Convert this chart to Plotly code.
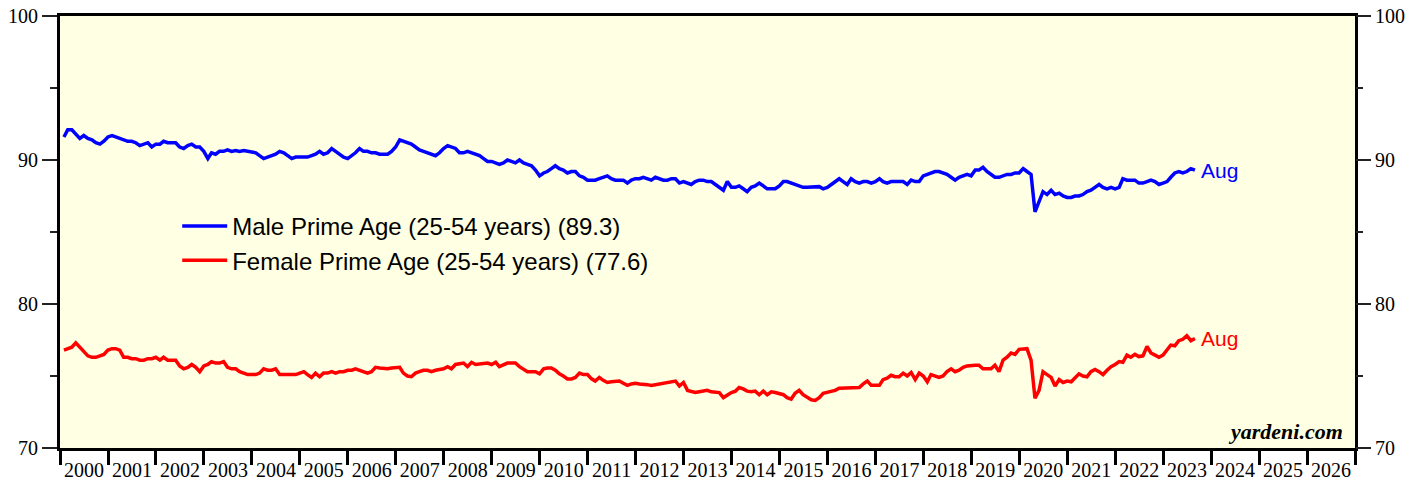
import pandas as pd
import plotly.graph_objects as go

# Monthly values, Jan 2000 - Aug 2023
male_2000s = [
    91.6, 92.1, 92.1, 91.8, 91.5, 91.7, 91.5, 91.4, 91.2, 91.1, 91.3, 91.6,   # 2000
    91.7, 91.6, 91.5, 91.4, 91.3, 91.3, 91.2, 91.0, 91.1, 91.2, 90.9, 91.1,   # 2001
    91.1, 91.3, 91.2, 91.2, 91.2, 90.9, 90.8, 91.0, 91.1, 90.9, 90.9, 90.6,   # 2002
    90.1, 90.5, 90.4, 90.6, 90.6, 90.7, 90.6, 90.65, 90.6, 90.65, 90.6, 90.6, # 2003
    90.5, 90.3, 90.1, 90.2, 90.3, 90.4, 90.6, 90.5, 90.3, 90.1, 90.2, 90.2,   # 2004
    90.2, 90.2, 90.3, 90.4, 90.6, 90.4, 90.5, 90.8, 90.6, 90.4, 90.2, 90.1,   # 2005
    90.3, 90.5, 90.8, 90.6, 90.6, 90.5, 90.5, 90.4, 90.4, 90.4, 90.6, 90.9,   # 2006
    91.4, 91.3, 91.2, 91.1, 90.9, 90.7, 90.6, 90.5, 90.4, 90.3, 90.5, 90.8,   # 2007
    91.0, 90.9, 90.8, 90.5, 90.5, 90.6, 90.5, 90.4, 90.3, 90.1, 89.9, 89.9,   # 2008
    89.8, 89.7, 89.8, 90.0, 89.9, 89.8, 90.0, 89.8, 89.7, 89.6, 89.3, 88.9,   # 2009
]
male_2010s = [
    89.1, 89.2, 89.4, 89.6, 89.4, 89.3, 89.1, 89.2, 89.2, 88.9, 88.8, 88.6,   # 2010
    88.6, 88.6, 88.7, 88.8, 88.9, 88.7, 88.6, 88.6, 88.6, 88.4, 88.6, 88.7,   # 2011
    88.7, 88.8, 88.7, 88.6, 88.8, 88.7, 88.6, 88.6, 88.7, 88.7, 88.4, 88.5,   # 2012
    88.4, 88.3, 88.5, 88.6, 88.6, 88.5, 88.5, 88.3, 88.1, 87.9, 88.5, 88.1,   # 2013
    88.1, 88.2, 88.0, 87.8, 88.1, 88.2, 88.4, 88.2, 88.0, 88.0, 88.0, 88.2,   # 2014
    88.5, 88.5, 88.4, 88.3, 88.2, 88.1, 88.1, 88.1, 88.1, 88.15, 88.0, 88.1,  # 2015
    88.3, 88.5, 88.7, 88.5, 88.3, 88.7, 88.5, 88.4, 88.5, 88.5, 88.4, 88.5,   # 2016
    88.7, 88.5, 88.4, 88.5, 88.5, 88.5, 88.5, 88.3, 88.6, 88.5, 88.5, 88.9,   # 2017
    89.0, 89.1, 89.2, 89.2, 89.1, 89.0, 88.8, 88.6, 88.8, 88.9, 89.0, 88.9,   # 2018
    89.3, 89.3, 89.5, 89.2, 89.0, 88.8, 88.8, 88.9, 89.0, 89.0, 89.1, 89.1,   # 2019
]
male_2020s = [
    89.4, 89.2, 89.0, 86.4, 87.2, 87.8, 87.6, 87.9, 87.6, 87.7, 87.5, 87.4,   # 2020
    87.4, 87.5, 87.5, 87.6, 87.8, 87.9, 88.1, 88.3, 88.1, 88.0, 88.1, 88.0,   # 2021
    88.1, 88.7, 88.6, 88.6, 88.6, 88.4, 88.4, 88.5, 88.6, 88.5, 88.3, 88.4,   # 2022
    88.5, 88.8, 89.1, 89.2, 89.1, 89.2, 89.4, 89.3,                           # 2023
]

female_2000s = [
    76.8, 76.9, 77.0, 77.3, 77.0, 76.7, 76.4, 76.3, 76.3, 76.4, 76.5, 76.8,   # 2000
    76.9, 76.9, 76.8, 76.3, 76.3, 76.2, 76.2, 76.1, 76.1, 76.2, 76.2, 76.3,   # 2001
    76.1, 76.3, 76.1, 76.1, 76.1, 75.7, 75.5, 75.6, 75.8, 75.6, 75.3, 75.7,   # 2002
    75.8, 76.0, 75.9, 75.9, 76.0, 75.6, 75.5, 75.5, 75.3, 75.2, 75.1, 75.1,   # 2003
    75.1, 75.2, 75.5, 75.4, 75.4, 75.5, 75.1, 75.1, 75.1, 75.1, 75.1, 75.2,   # 2004
    75.3, 75.1, 74.9, 75.2, 74.95, 75.2, 75.2, 75.3, 75.2, 75.3, 75.3, 75.4,  # 2005
    75.4, 75.5, 75.4, 75.3, 75.2, 75.3, 75.6, 75.55, 75.5, 75.5, 75.55, 75.55,# 2006
    75.6, 75.2, 75.0, 74.95, 75.2, 75.3, 75.4, 75.4, 75.3, 75.4, 75.45, 75.5, # 2007
    75.65, 75.5, 75.8, 75.85, 75.9, 75.65, 75.95, 75.8, 75.85, 75.9, 75.9, 75.8, # 2008
    75.95, 75.65, 75.75, 75.9, 75.9, 75.9, 75.65, 75.5, 75.3, 75.3, 75.3, 75.15, # 2009
]
female_2010s = [
    75.5, 75.55, 75.55, 75.4, 75.15, 75.0, 74.8, 74.8, 74.9, 75.2, 75.1, 75.1,   # 2010
    74.8, 74.65, 74.9, 74.7, 74.55, 74.6, 74.6, 74.65, 74.5, 74.35, 74.45, 74.5, # 2011
    74.45, 74.45, 74.4, 74.35, 74.4, 74.45, 74.5, 74.55, 74.6, 74.65, 74.3, 74.55, # 2012
    74.0, 73.95, 73.85, 73.9, 73.95, 74.0, 73.9, 73.85, 73.85, 73.5, 73.7, 73.85,  # 2013
    73.95, 74.2, 74.1, 73.95, 73.9, 73.95, 73.7, 73.95, 73.7, 73.9, 73.85, 73.8,   # 2014
    73.7, 73.5, 73.4, 73.8, 74.0, 73.7, 73.55, 73.35, 73.3, 73.5, 73.8, 73.85,     # 2015
    73.9, 74.0, 74.15, 74.15, 74.15, 74.15, 74.15, 74.2, 74.45, 74.65, 74.35, 74.35, # 2016
    74.35, 74.75, 74.85, 75.05, 74.95, 74.95, 75.2, 75.0, 75.25, 74.75, 75.2, 75.0,  # 2017
    74.6, 75.1, 75.0, 74.9, 75.0, 75.3, 75.5, 75.3, 75.4, 75.6, 75.7, 75.75,         # 2018
    75.75, 75.75, 75.5, 75.5, 75.5, 75.75, 75.3, 76.1, 76.3, 76.6, 76.5, 76.85,      # 2019
]
female_2020s = [
    76.9, 76.9, 76.1, 73.45, 74.0, 75.3, 75.1, 74.9, 74.3, 74.75, 74.55, 74.65,  # 2020
    74.6, 74.9, 75.15, 75.0, 74.95, 75.3, 75.45, 75.3, 75.1, 75.4, 75.65, 75.8,  # 2021
    76.0, 75.95, 76.45, 76.3, 76.5, 76.35, 76.4, 77.05, 76.6, 76.45, 76.3, 76.45, # 2022
    76.8, 77.15, 77.1, 77.45, 77.55, 77.8, 77.45, 77.6,                          # 2023
]

male = male_2000s + male_2010s + male_2020s
female = female_2000s + female_2010s + female_2020s

start_month = "2000-01-01"
last_label = "Aug"
year_ticks_start = "2000-01-01"
x_range = ["2000-01-01", "2027-01-01"]
y_range = [70, 100]

dates = pd.date_range(start_month, periods=len(male), freq="MS") + pd.offsets.MonthEnd(0)

BLUE = "#0000FF"
RED = "#FF0000"
SERIF = "Liberation Serif, Times New Roman, serif"
SANS = "Liberation Sans, Arial, sans-serif"

fig = go.Figure()
fig.add_trace(go.Scatter(
    x=dates, y=male, mode="lines", xaxis="x", yaxis="y",
    name=f"Male Prime Age (25-54 years) ({male[-1]:.1f})",
    line=dict(color=BLUE, width=3.5),
))
fig.add_trace(go.Scatter(
    x=dates, y=female, mode="lines", xaxis="x2", yaxis="y2",
    name=f"Female Prime Age (25-54 years) ({female[-1]:.1f})",
    line=dict(color=RED, width=3.5),
))

fig.add_annotation(x=dates[-1], y=male[-1], xref="x", yref="y", text=last_label,
                   showarrow=False, xanchor="left", xshift=4,
                   font=dict(family=SANS, size=21, color=BLUE))
fig.add_annotation(x=dates[-1], y=female[-1], xref="x", yref="y", text=last_label,
                   showarrow=False, xanchor="left", xshift=4,
                   font=dict(family=SANS, size=21, color=RED))
fig.add_annotation(x=0.992, y=0.005, xref="paper", yref="paper",
                   text="<b><i>yardeni.com</i></b>", showarrow=False,
                   xanchor="right", yanchor="bottom",
                   font=dict(family=SERIF, size=22, color="black"))

ytick_common = dict(
    range=y_range, tickvals=[70, 80, 90, 100], ticks="outside", ticklen=15,
    tickwidth=2, tickcolor="#222", showgrid=False, zeroline=False,
    automargin=False,
    tickfont=dict(family=SERIF, size=20, color="black"),
    minor=dict(dtick=5, tick0=70, ticks="outside", ticklen=7, tickwidth=2,
               tickcolor="#222", showgrid=False),
)

fig.update_layout(
    width=1428, height=482,
    margin=dict(l=60, r=73, t=16, b=34, autoexpand=False),
    paper_bgcolor="white",
    plot_bgcolor="#FFFFE3",
    showlegend=True,
    legend=dict(x=0.0905, y=0.565, xanchor="left", yanchor="top",
                bgcolor="rgba(0,0,0,0)", borderwidth=0,
                font=dict(family=SANS, size=24, color="black"),
                itemwidth=45, tracegroupgap=0),
    xaxis=dict(
        type="date", range=x_range, dtick="M12", tick0=year_ticks_start,
        ticklabelmode="period", tickformat="%Y", ticks="",
        ticklabelstandoff=2, automargin=False,
        showline=True, linecolor="black", linewidth=3, mirror=True,
        showgrid=False, zeroline=False,
        tickfont=dict(family=SERIF, size=20, color="black"),
    ),
    xaxis2=dict(
        type="date", range=x_range, dtick="M12", tick0=year_ticks_start,
        overlaying="x", side="bottom", showticklabels=False, automargin=False,
        ticks="outside", ticklen=16, tickwidth=3, tickcolor="black",
        showline=False, showgrid=False, zeroline=False,
    ),
    yaxis=dict(side="left", showline=True, linecolor="black", linewidth=3,
               mirror=True, **ytick_common),
    yaxis2=dict(side="right", overlaying="y", showline=False, **ytick_common),
)

fig.write_html(
    "out.html",
    config={"displayModeBar": False},
    post_script="document.body.style.margin='0';document.body.style.overflow='hidden';",
)
